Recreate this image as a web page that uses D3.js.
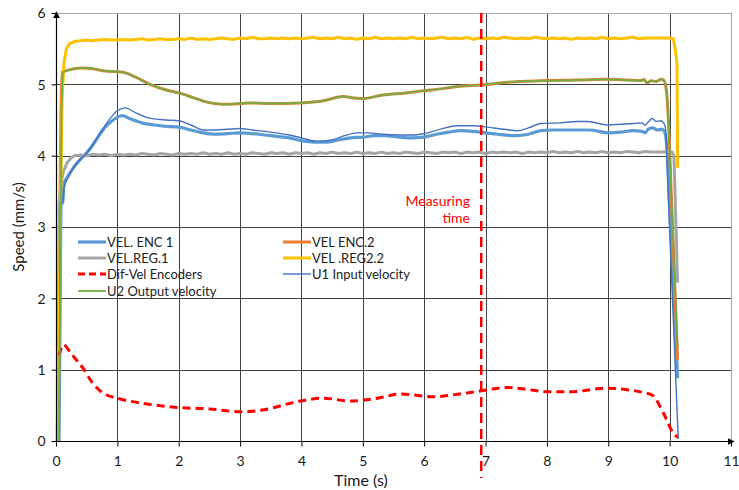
<!DOCTYPE html>
<html><head><meta charset="utf-8">
<script src="https://cdn.jsdelivr.net/npm/d3@7"></script>
<style>
body{margin:0;background:#fff;}
svg{display:block;font-family:Lato,"Open Sans",sans-serif;}
</style></head>
<body><svg id="c" width="739" height="490"></svg>
<script>
const xTicks = [0,1,2,3,4,5,6,7,8,9,10,11];
const yTicks = [0,1,2,3,4,5,6];
const seriesNames = ["VEL. ENC 1","VEL ENC.2","VEL.REG.1","VEL .REG2.2","Dif-Vel Encoders","U1 Input velocity","U2 Output velocity"];
const measuringTime = 6.93;

const velEnc1 = [[0.05,0],[0.08,3.3],[0.11,3.35],[0.13,3.6],[0.2,3.72],[0.3,3.85],[0.4,3.95],[0.5,4.04],[0.6,4.15],[0.7,4.28],[0.8,4.4],[0.9,4.48],[1.0,4.54],[1.08,4.56],[1.2,4.52],[1.4,4.46],[1.6,4.43],[1.8,4.41],[2.0,4.40],[2.2,4.36],[2.4,4.32],[2.6,4.30],[2.8,4.31],[3.0,4.32],[3.2,4.31],[3.4,4.29],[3.6,4.27],[3.8,4.25],[4.0,4.21],[4.2,4.19],[4.4,4.19],[4.6,4.22],[4.8,4.25],[5.0,4.26],[5.2,4.28],[5.35,4.28],[5.6,4.26],[5.8,4.25],[6.0,4.26],[6.2,4.30],[6.4,4.33],[6.6,4.35],[6.8,4.34],[7.0,4.32],[7.2,4.30],[7.5,4.28],[7.7,4.30],[7.9,4.35],[8.1,4.36],[8.4,4.36],[8.7,4.36],[9.0,4.32],[9.2,4.33],[9.4,4.35],[9.55,4.34],[9.6,4.32],[9.65,4.37],[9.72,4.39],[9.8,4.36],[9.88,4.37],[9.93,4.3],[9.97,3.9],[10.0,3.3],[10.13,0.88]];

const velEnc2 = [[0.02,0],[0.08,4.6],[0.1,5.17],[0.2,5.2],[0.42,5.23],[0.6,5.22],[0.77,5.19],[1.09,5.17],[1.3,5.1],[1.53,5.0],[1.8,4.92],[2.0,4.88],[2.25,4.81],[2.46,4.75],[2.73,4.72],[3.0,4.73],[3.16,4.74],[3.5,4.73],[3.98,4.74],[4.36,4.77],[4.68,4.83],[4.85,4.81],[5.0,4.8],[5.33,4.85],[5.7,4.88],[5.99,4.91],[6.3,4.94],[6.54,4.97],[6.92,4.99],[7.36,5.03],[7.9,5.05],[8.5,5.06],[8.99,5.07],[9.3,5.06],[9.53,5.05],[9.58,5.07],[9.63,5.02],[9.7,5.05],[9.78,5.04],[9.86,5.07],[9.9,5.06],[9.95,4.9],[9.98,4.5],[10.03,3.38],[10.13,1.14]];

const velReg1 = [[0.03,0],[0.05,3.3],[0.08,3.6],[0.12,3.78],[0.18,3.9],[0.25,3.97],[0.3,4.0],[0.4,4.01],[0.5,4.0],[0.6,4.02],[0.7,4.01],[0.8,4.02],[0.9,4.0],[1.0,4.02],[1.1,4.01],[1.2,4.02],[1.3,4.01],[1.4,4.03],[1.5,4.02],[1.6,4.01],[1.7,4.03],[1.8,4.02],[1.9,4.01],[2.0,4.03],[2.1,4.02],[2.2,4.03],[2.3,4.02],[2.4,4.04],[2.5,4.02],[2.6,4.03],[2.7,4.02],[2.8,4.04],[2.9,4.02],[3.0,4.03],[3.1,4.02],[3.2,4.04],[3.3,4.03],[3.4,4.02],[3.5,4.04],[3.6,4.03],[3.7,4.04],[3.8,4.02],[3.9,4.04],[4.0,4.03],[4.1,4.04],[4.2,4.02],[4.3,4.04],[4.4,4.03],[4.5,4.05],[4.6,4.03],[4.7,4.04],[4.8,4.03],[4.9,4.05],[5.0,4.03],[5.1,4.04],[5.2,4.03],[5.3,4.05],[5.4,4.03],[5.5,4.04],[5.6,4.03],[5.7,4.05],[5.8,4.04],[5.9,4.03],[6.0,4.05],[6.1,4.04],[6.2,4.03],[6.3,4.05],[6.4,4.04],[6.5,4.05],[6.6,4.03],[6.7,4.05],[6.8,4.04],[6.9,4.05],[7.0,4.03],[7.1,4.05],[7.2,4.04],[7.3,4.05],[7.4,4.04],[7.5,4.05],[7.6,4.03],[7.7,4.05],[7.8,4.04],[7.9,4.05],[8.0,4.04],[8.1,4.06],[8.2,4.04],[8.3,4.05],[8.4,4.04],[8.5,4.06],[8.6,4.04],[8.7,4.05],[8.8,4.04],[8.9,4.06],[9.0,4.04],[9.1,4.05],[9.2,4.04],[9.3,4.06],[9.4,4.05],[9.5,4.04],[9.6,4.06],[9.7,4.05],[9.8,4.05],[9.9,4.05],[10.0,4.05],[10.04,4.05],[10.07,4.0],[10.13,2.22]];

const velReg22 = [[0.03,0],[0.07,3.0],[0.1,4.8],[0.13,5.3],[0.17,5.5],[0.22,5.57],[0.3,5.6],[0.4,5.61],[0.5,5.62],[0.6,5.61],[0.7,5.62],[0.8,5.63],[0.9,5.62],[1.0,5.62],[1.1,5.63],[1.2,5.62],[1.3,5.63],[1.4,5.64],[1.5,5.62],[1.6,5.63],[1.7,5.64],[1.8,5.63],[1.9,5.63],[2.0,5.64],[2.1,5.63],[2.2,5.65],[2.3,5.63],[2.4,5.64],[2.5,5.63],[2.6,5.64],[2.7,5.65],[2.8,5.64],[2.9,5.63],[3.0,5.65],[3.1,5.64],[3.2,5.66],[3.3,5.64],[3.4,5.64],[3.5,5.65],[3.6,5.64],[3.7,5.65],[3.8,5.64],[3.9,5.65],[4.0,5.64],[4.1,5.65],[4.2,5.66],[4.3,5.64],[4.4,5.65],[4.5,5.64],[4.6,5.66],[4.7,5.64],[4.8,5.65],[4.9,5.63],[5.0,5.65],[5.1,5.64],[5.2,5.66],[5.3,5.64],[5.4,5.65],[5.5,5.64],[5.6,5.65],[5.7,5.64],[5.8,5.66],[5.9,5.64],[6.0,5.65],[6.1,5.64],[6.2,5.65],[6.3,5.66],[6.4,5.64],[6.5,5.65],[6.6,5.64],[6.7,5.66],[6.8,5.63],[6.9,5.65],[7.0,5.64],[7.1,5.65],[7.2,5.64],[7.3,5.66],[7.4,5.65],[7.5,5.64],[7.6,5.65],[7.7,5.64],[7.8,5.66],[7.9,5.65],[8.0,5.64],[8.1,5.65],[8.2,5.64],[8.3,5.65],[8.4,5.63],[8.5,5.65],[8.6,5.64],[8.7,5.65],[8.8,5.64],[8.9,5.66],[9.0,5.64],[9.1,5.65],[9.2,5.64],[9.3,5.65],[9.4,5.66],[9.5,5.64],[9.6,5.65],[9.7,5.65],[9.8,5.65],[9.9,5.65],[10.0,5.65],[10.06,5.64],[10.09,5.5],[10.12,5.3],[10.13,3.83]];

const difVel = [[0.05,1.2],[0.12,1.35],[0.25,1.22],[0.44,1.02],[0.6,0.81],[0.77,0.67],[1.0,0.6],[1.48,0.52],[1.97,0.47],[2.5,0.45],[3.0,0.41],[3.33,0.43],[3.98,0.56],[4.36,0.6],[4.8,0.56],[5.3,0.61],[5.6,0.66],[6.15,0.62],[6.5,0.65],[6.91,0.7],[7.35,0.75],[7.7,0.72],[8.0,0.69],[8.38,0.69],[8.98,0.74],[9.3,0.72],[9.57,0.68],[9.72,0.64],[9.9,0.39],[10.06,0.11],[10.14,0.05]];

const u1Input = [[0.05,0],[0.07,3.35],[0.11,3.36],[0.13,3.55],[0.2,3.7],[0.34,3.9],[0.5,4.03],[0.72,4.32],[0.9,4.54],[1.0,4.63],[1.13,4.67],[1.3,4.6],[1.5,4.53],[1.8,4.5],[2.0,4.49],[2.2,4.43],[2.4,4.36],[2.6,4.36],[2.8,4.37],[3.0,4.38],[3.2,4.36],[3.5,4.33],[3.8,4.29],[4.0,4.25],[4.26,4.2],[4.5,4.22],[4.7,4.28],[4.9,4.32],[5.1,4.32],[5.33,4.3],[5.6,4.29],[5.82,4.29],[6.0,4.31],[6.3,4.38],[6.54,4.42],[6.8,4.42],[7.03,4.4],[7.3,4.37],[7.52,4.35],[7.7,4.39],[7.9,4.45],[8.2,4.46],[8.5,4.48],[8.66,4.48],[9.0,4.43],[9.2,4.44],[9.4,4.45],[9.55,4.46],[9.6,4.43],[9.65,4.47],[9.72,4.52],[9.78,4.48],[9.85,4.49],[9.9,4.46],[9.93,4.4],[9.98,3.38],[10.14,0.03]];

const u2Output = [[0.05,0],[0.09,4.6],[0.12,5.17],[0.2,5.2],[0.42,5.23],[0.6,5.22],[0.77,5.19],[1.09,5.17],[1.3,5.1],[1.53,5.0],[1.8,4.92],[2.0,4.88],[2.25,4.81],[2.46,4.75],[2.73,4.72],[3.0,4.73],[3.16,4.74],[3.5,4.73],[3.98,4.74],[4.36,4.77],[4.68,4.83],[4.85,4.81],[5.0,4.8],[5.33,4.85],[5.7,4.88],[5.99,4.91],[6.3,4.94],[6.54,4.97],[6.92,4.99],[7.36,5.03],[7.9,5.05],[8.5,5.06],[8.99,5.07],[9.3,5.06],[9.53,5.05],[9.58,5.07],[9.63,5.02],[9.7,5.05],[9.78,5.04],[9.86,5.07],[9.9,5.06],[9.95,4.9],[9.98,4.5],[10.03,3.38],[10.13,1.3]];

const svg = d3.select("#c");
const L = 56, R = 731, T = 13, B = 441;
const x = d3.scaleLinear().domain([0,11]).range([L,R]);
const y = d3.scaleLinear().domain([0,6]).range([B,T]);

// gridlines
const g = svg.append("g");
g.selectAll(".vg").data(xTicks.filter(d=>d>0)).enter().append("line")
  .attr("x1",d=>Math.round(x(d))+0.5).attr("x2",d=>Math.round(x(d))+0.5)
  .attr("y1",T).attr("y2",B)
  .attr("stroke",d=>d===11?"#a6a6a6":"#404040").attr("stroke-width",1);
g.selectAll(".hg").data(yTicks.filter(d=>d>0)).enter().append("line")
  .attr("y1",d=>Math.round(y(d))+0.5).attr("y2",d=>Math.round(y(d))+0.5)
  .attr("x1",L).attr("x2",R)
  .attr("stroke",d=>d===6?"#a6a6a6":"#404040").attr("stroke-width",1);

// axes
const xAxis = d3.axisBottom(x).tickValues(xTicks).tickSize(5).tickFormat(d3.format("d"));
const yAxis = d3.axisLeft(y).tickValues(yTicks).tickSize(5).tickFormat(d3.format("d"));
const gx = svg.append("g").attr("transform",`translate(0,${B+0.5})`).call(xAxis);
const gy = svg.append("g").attr("transform",`translate(${L+0.5},0)`).call(yAxis);
[gx,gy].forEach(a=>{
  a.select(".domain").remove();
  a.selectAll(".tick line").attr("stroke","#000");
  a.selectAll("text").attr("fill","#1a1a1a").style("font-size","14px").style("font-family","Lato");
});
gx.selectAll("text").attr("dy","0").attr("y",24);
gy.selectAll("text").attr("x",-11).attr("dy","0.35em");

// series
const lineSmooth = d3.line().x(d=>x(d[0])).y(d=>y(d[1])).curve(d3.curveMonotoneX);
const lineRaw = d3.line().x(d=>x(d[0])).y(d=>y(d[1])).curve(d3.curveLinear);
const plot = svg.append("g");
const series = [
  {data:velEnc1, color:"#5b9bd5", w:3.2, gen:lineSmooth},
  {data:velEnc2, color:"#ed7d31", w:3, gen:lineSmooth},
  {data:velReg1, color:"#a5a5a5", w:3, gen:lineRaw},
  {data:velReg22, color:"#ffc000", w:3, gen:lineRaw},
  {data:difVel, color:"#ff0000", w:3, gen:lineSmooth, dash:"8,5"},
  {data:u1Input, color:"#4472c4", w:1.4, gen:lineSmooth},
  {data:u2Output, color:"#70ad47", w:1.8, gen:lineSmooth}
];
series.forEach(s=>{
  plot.append("path").attr("d",s.gen(s.data)).attr("fill","none")
    .attr("stroke",s.color).attr("stroke-width",s.w)
    .attr("stroke-linejoin","round")
    .attr("stroke-dasharray",s.dash||null);
});

// axis lines with arrows
svg.append("defs").append("marker").attr("id","arr").attr("viewBox","0 0 10 10")
  .attr("refX",9).attr("refY",5).attr("markerWidth",7).attr("markerHeight",7)
  .attr("orient","auto").attr("markerUnits","userSpaceOnUse")
  .append("path").attr("d","M0,0L10,5L0,10z").attr("fill","#000");
svg.append("line").attr("x1",L+0.5).attr("x2",L+0.5).attr("y1",B).attr("y2",T-1)
  .attr("stroke","#000").attr("stroke-width",1.2).attr("marker-end","url(#arr)");
svg.append("line").attr("x1",L).attr("x2",R+3).attr("y1",B+0.5).attr("y2",B+0.5)
  .attr("stroke","#000").attr("stroke-width",1.2).attr("marker-end","url(#arr)");

// measuring time line
svg.append("line").attr("x1",x(measuringTime)).attr("x2",x(measuringTime))
  .attr("y1",T).attr("y2",478).attr("stroke","#ff0000").attr("stroke-width",2.5)
  .attr("stroke-dasharray","10,6");
const mt = svg.append("text").attr("fill","#ff0000").style("font-size","14px")
  .attr("text-anchor","end");
mt.append("tspan").attr("x",470).attr("y",206).text("Measuring");
mt.append("tspan").attr("x",470).attr("y",223).text("time");

// axis titles
svg.append("text").attr("x",361).attr("y",486).attr("text-anchor","middle")
  .style("font-size","16px").attr("fill","#1a1a1a").text("Time (s)");
svg.append("text").attr("transform",`translate(24,${(T+B)/2}) rotate(-90)`)
  .attr("text-anchor","middle").style("font-size","15px").attr("fill","#1a1a1a").text("Speed (mm/s)");

// legend
const legPos = [[78,242],[283,242],[78,258],[283,258],[78,274],[283,274],[78,291]];
const leg = svg.append("g");
series.forEach((s,i)=>{
  const [lx,ly] = legPos[i];
  leg.append("line").attr("x1",lx).attr("x2",lx+28).attr("y1",ly).attr("y2",ly)
    .attr("stroke",s.color).attr("stroke-width",s.w).attr("stroke-dasharray",s.dash?"7,4":null);
  leg.append("text").attr("x",lx+29).attr("y",ly).attr("dy","0.35em")
    .style("font-size","13px").attr("fill","#222").text(seriesNames[i]);
});
</script></body></html>
